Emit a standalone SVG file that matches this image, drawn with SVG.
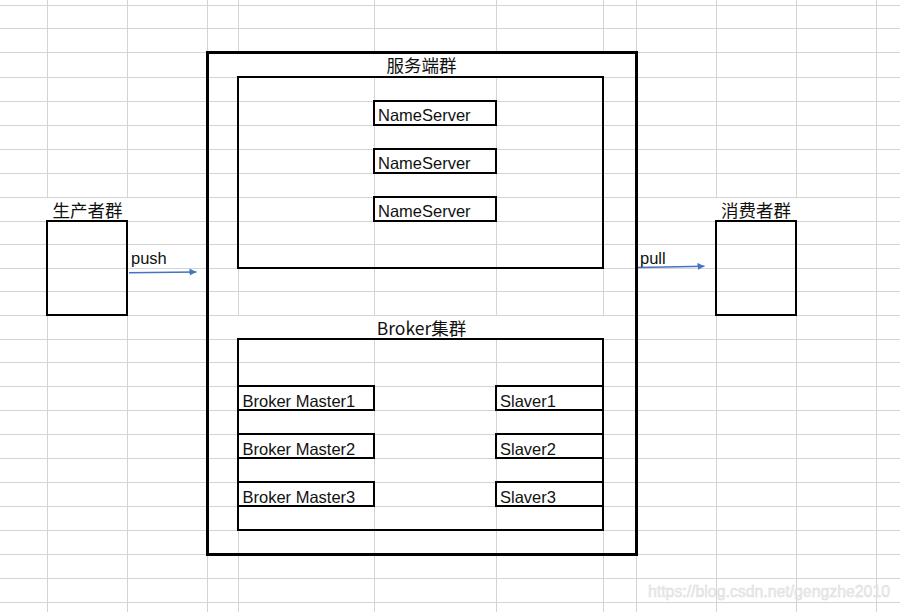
<svg xmlns="http://www.w3.org/2000/svg" width="900" height="612" viewBox="0 0 900 612">
<defs>
<style>
.grid{stroke:#d4d4d4;stroke-width:1;fill:none}
.box{fill:none;stroke:#000;stroke-width:2}
.outer{fill:none;stroke:#000;stroke-width:3}
.t{font-family:"Liberation Sans","Noto Sans CJK SC",sans-serif;font-size:16.5px;fill:#111}
.cn{font-family:"Noto Sans CJK SC","Liberation Sans",sans-serif;font-size:17.5px;fill:#111;text-anchor:middle}
.arrow{stroke:#4472C4;stroke-width:1.5;fill:none;marker-end:url(#ah)}
.wm{font-family:"Liberation Sans",sans-serif;font-size:16px;fill:#ececec;stroke:#d8d8d8;stroke-width:0.4}
</style>
<marker id="ah" viewBox="0 0 10 10" refX="10" refY="5" markerWidth="7" markerHeight="7" markerUnits="userSpaceOnUse" orient="auto">
<path d="M0,0 L10,5 L0,10 Z" fill="#4472C4"/>
</marker>
</defs>
<rect x="0" y="0" width="900" height="612" fill="#fff"/>
<g id="grid" class="grid">
<path d="M0,5.5H900M0,28.5H900M0,52.5H900M0,77.5H900M0,101.5H900M0,125.5H900M0,149.5H900M0,173.5H900M0,197.5H900M0,221.5H900M0,244.5H900M0,268.5H900M0,291.5H900M0,315.5H900M0,339.5H900M0,362.5H900M0,386.5H900M0,410.5H900M0,434.5H900M0,458.5H900M0,482.5H900M0,506.5H900M0,530.5H900M0,554.5H900M0,578.5H900M0,602.5H900"/>
<path d="M47.5,0V197M47.5,221V612M127.5,0V197M127.5,221V612M207.5,0V612M716.5,0V197M716.5,221V612M796.5,0V197M796.5,221V612M876.5,0V612M636.5,0V612"/>
<path d="M238.5,0V52M238.5,77V315M238.5,339V612M374.5,0V52M374.5,77V315M374.5,339V612M496.5,0V52M496.5,77V315M496.5,339V612M603.5,0V52M603.5,77V315M603.5,339V612"/>
</g>
<g id="server-cluster">
<rect class="outer" x="207.5" y="52.5" width="429" height="502"/>
<text class="cn" x="421.5" y="72">服务端群</text>
</g>
<g id="nameserver-group">
<rect class="box" x="238" y="77" width="365" height="191"/>
</g>
<g id="nameserver1"><rect class="box" x="374" y="101" width="122" height="24"/><text class="t" x="378" y="121">NameServer</text></g>
<g id="nameserver2"><rect class="box" x="374" y="149" width="122" height="24"/><text class="t" x="378" y="169">NameServer</text></g>
<g id="nameserver3"><rect class="box" x="374" y="197" width="122" height="24"/><text class="t" x="378" y="217">NameServer</text></g>
<g id="broker-cluster">
<text class="cn" x="421.5" y="335">Broker集群</text>
<rect class="box" x="238" y="339" width="365" height="191"/>
</g>
<g id="master1"><rect class="box" x="238" y="386" width="136" height="24"/><text class="t" x="242.5" y="406.5">Broker Master1</text></g>
<g id="master2"><rect class="box" x="238" y="434" width="136" height="24"/><text class="t" x="242.5" y="454.5">Broker Master2</text></g>
<g id="master3"><rect class="box" x="238" y="482" width="136" height="24"/><text class="t" x="242.5" y="502.5">Broker Master3</text></g>
<g id="slaver1"><rect class="box" x="496" y="386" width="107" height="24"/><text class="t" x="500" y="406.5">Slaver1</text></g>
<g id="slaver2"><rect class="box" x="496" y="434" width="107" height="24"/><text class="t" x="500" y="454.5">Slaver2</text></g>
<g id="slaver3"><rect class="box" x="496" y="482" width="107" height="24"/><text class="t" x="500" y="502.5">Slaver3</text></g>
<g id="producers">
<text class="cn" x="87.5" y="217">生产者群</text>
<rect class="box" x="47" y="221" width="80" height="94"/>
</g>
<g id="consumers">
<text class="cn" x="756" y="217">消费者群</text>
<rect class="box" x="716" y="221" width="80" height="94"/>
</g>
<g id="connectors">
<path class="arrow" d="M129,272.7 L196.5,272"/>
<text class="t" x="131" y="264">push</text>
<path class="arrow" d="M638,267.5 L704.5,266.3"/>
<text class="t" x="640" y="263.5">pull</text>
</g>
<text class="wm" x="648" y="597" textLength="242" lengthAdjust="spacingAndGlyphs">https://blog.csdn.net/gengzhe2010</text>
</svg>
